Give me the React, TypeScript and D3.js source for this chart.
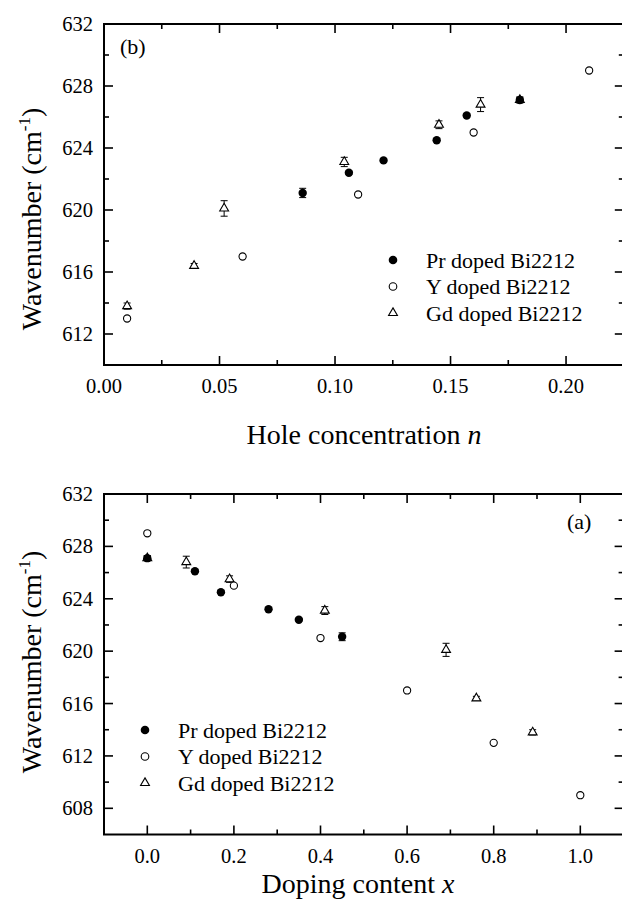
import React from 'react';
import * as d3 from 'd3';

const W = 622;
const H = 900;
const FONT = "'Liberation Serif', 'Times New Roman', Times, 'DejaVu Serif', serif";

// ---- Panel (b): wavenumber vs hole concentration n ----
const prN = [0.086, 0.106, 0.121, 0.144, 0.157, 0.18];
const prNW = [621.1, 622.4, 623.2, 624.5, 626.1, 627.1];
const prNErr = [0.3, 0.1, 0.1, 0.1, 0.1, 0.15];
const yN = [0.01, 0.06, 0.11, 0.16, 0.21];
const yNW = [613.0, 617.0, 621.0, 625.0, 629.0];
const gdN = [0.01, 0.039, 0.052, 0.104, 0.145, 0.163, 0.18];
const gdNW = [613.8, 616.4, 620.1, 623.1, 625.5, 626.8, 627.1];
const gdNErr = [0.2, 0.15, 0.5, 0.3, 0.25, 0.45, 0.2];

// ---- Panel (a): wavenumber vs doping content x ----
const prX = [0, 0.11, 0.17, 0.28, 0.35, 0.45];
const prXW = [627.1, 626.1, 624.5, 623.2, 622.4, 621.1];
const prXErr = [0.15, 0.1, 0.1, 0.1, 0.1, 0.3];
const yX = [0, 0.2, 0.4, 0.6, 0.8, 1.0];
const yXW = [629, 625, 621, 617, 613, 609];
const gdX = [0, 0.09, 0.19, 0.41, 0.69, 0.76, 0.89];
const gdXW = [627.1, 626.8, 625.5, 623.1, 620.1, 616.4, 613.8];
const gdXErr = [0.2, 0.45, 0.25, 0.3, 0.5, 0.15, 0.2];

// ---- ticks & labels ----
const nMajor = [0, 0.05, 0.1, 0.15, 0.2];
const nMinor = [0.025, 0.075, 0.125, 0.175];
const xMajor = [0, 0.2, 0.4, 0.6, 0.8, 1.0];
const xMinor = [0.1, 0.3, 0.5, 0.7, 0.9];
const wMajorB = [612, 616, 620, 624, 628, 632];
const wMinorB = [614, 618, 622, 626, 630];
const wMajorA = [608, 612, 616, 620, 624, 628, 632];
const wMinorA = [610, 614, 618, 622, 626, 630];
const legendLabels = ['Pr doped Bi2212', 'Y doped Bi2212', 'Gd doped Bi2212'];

type PanelProps = {
  x: d3.ScaleLinear<number, number>;
  y: d3.ScaleLinear<number, number>;
  xMaj: number[]; xMin: number[]; yMaj: number[]; yMin: number[];
  xFmt: (v: number) => string;
  pr: number[]; prW: number[]; prE: number[];
  yy: number[]; yyW: number[];
  gd: number[]; gdW: number[]; gdE: number[];
  tag: string; tagX: number; tagY: number;
  legX: number; legY: number;
  xTitle: React.ReactNode; xTitleX: number; xTitleY: number;
  yTitleY: number;
};

const tri = d3.symbol().type(d3.symbolTriangle).size(34)();

function ErrBar({ cx, y, v, e }: { cx: number; y: d3.ScaleLinear<number, number>; v: number; e: number }) {
  const y1 = y(v - e), y2 = y(v + e);
  return (
    <g stroke="#000" strokeWidth={1}>
      <line x1={cx} x2={cx} y1={y1} y2={y2} />
      <line x1={cx - 3.5} x2={cx + 3.5} y1={y1} y2={y1} />
      <line x1={cx - 3.5} x2={cx + 3.5} y1={y2} y2={y2} />
    </g>
  );
}

function Panel(p: PanelProps) {
  const [x0, x1] = p.x.range();
  const [y0, y1] = p.y.range(); // y0 bottom, y1 top
  const maj = 9, mn = 5;
  return (
    <g style={{ fontFamily: FONT }} fill="#000">
      <g stroke="#000" strokeWidth={1.6}>
        {p.xMaj.map((v, i) => (
          <g key={'xm' + i}>
            <line x1={p.x(v)} x2={p.x(v)} y1={y0} y2={y0 - maj} />
            <line x1={p.x(v)} x2={p.x(v)} y1={y1} y2={y1 + maj} />
          </g>
        ))}
        {p.xMin.map((v, i) => (
          <g key={'xn' + i}>
            <line x1={p.x(v)} x2={p.x(v)} y1={y0} y2={y0 - mn} />
            <line x1={p.x(v)} x2={p.x(v)} y1={y1} y2={y1 + mn} />
          </g>
        ))}
        {p.yMaj.map((v, i) => (
          <g key={'ym' + i}>
            <line x1={x0} x2={x0 + maj} y1={p.y(v)} y2={p.y(v)} />
            <line x1={x1} x2={x1 - maj} y1={p.y(v)} y2={p.y(v)} />
          </g>
        ))}
        {p.yMin.map((v, i) => (
          <g key={'yn' + i}>
            <line x1={x0} x2={x0 + mn} y1={p.y(v)} y2={p.y(v)} />
            <line x1={x1} x2={x1 - mn} y1={p.y(v)} y2={p.y(v)} />
          </g>
        ))}
      </g>
      <rect x={x0} y={y1} width={x1 - x0} height={y0 - y1} fill="none" stroke="#000" strokeWidth={2} />
      {p.xMaj.map((v, i) => (
        <text key={'xl' + i} x={p.x(v)} y={y0 + 28} fontSize={20.5} textAnchor="middle">{p.xFmt(v)}</text>
      ))}
      {p.yMaj.map((v, i) => (
        <text key={'yl' + i} x={x0 - 11} y={p.y(v) + 7} fontSize={20.5} textAnchor="end">{v}</text>
      ))}
      <text x={p.xTitleX} y={p.xTitleY} fontSize={28} textAnchor="middle">{p.xTitle}</text>
      <text transform={`translate(41,${p.yTitleY}) rotate(-90)`} fontSize={28} textAnchor="middle">
        Wavenumber (cm<tspan fontSize={17} dy={-11}>-1</tspan><tspan dy={11}>)</tspan>
      </text>
      <text x={p.tagX} y={p.tagY} fontSize={22}>{p.tag}</text>
      {p.gd.map((v, i) => (
        <g key={'gd' + i}>
          <ErrBar cx={p.x(v)} y={p.y} v={p.gdW[i]} e={p.gdE[i]} />
          <path d={tri} transform={`translate(${p.x(v)},${p.y(p.gdW[i])})`} fill="#fff" stroke="#000" strokeWidth={1.1} />
        </g>
      ))}
      {p.yy.map((v, i) => (
        <circle key={'y' + i} cx={p.x(v)} cy={p.y(p.yyW[i])} r={3.6} fill="#fff" stroke="#000" strokeWidth={1.1} />
      ))}
      {p.pr.map((v, i) => (
        <g key={'pr' + i}>
          <ErrBar cx={p.x(v)} y={p.y} v={p.prW[i]} e={p.prE[i]} />
          <circle cx={p.x(v)} cy={p.y(p.prW[i])} r={4.2} fill="#000" />
        </g>
      ))}
      <g>
        <circle cx={p.legX} cy={p.legY} r={4.3} fill="#000" />
        <circle cx={p.legX} cy={p.legY + 26.5} r={3.8} fill="#fff" stroke="#000" strokeWidth={1.1} />
        <path d={tri} transform={`translate(${p.legX},${p.legY + 53})`} fill="#fff" stroke="#000" strokeWidth={1.1} />
        {legendLabels.map((t, i) => (
          <text key={'lg' + i} x={p.legX + 33} y={p.legY + 26.5 * i + 7.5} fontSize={22}>{t}</text>
        ))}
      </g>
    </g>
  );
}

export default function App() {
  const xB = d3.scaleLinear().domain([0, 0.225]).range([104, 623.8]);
  const yB = d3.scaleLinear().domain([610, 632]).range([365, 24]);
  const xA = d3.scaleLinear().domain([-0.1, 1.1]).range([104, 623.6]);
  const yA = d3.scaleLinear().domain([606, 632]).range([834.5, 494]);
  return (
    <svg width={W} height={H} style={{ position: 'absolute', left: 0, top: 0, background: '#fff', fontFamily: FONT }}>
      <rect width={W} height={H} fill="#fff" />
      <Panel
        x={xB} y={yB} xMaj={nMajor} xMin={nMinor} yMaj={wMajorB} yMin={wMinorB}
        xFmt={d3.format('.2f')}
        pr={prN} prW={prNW} prE={prNErr} yy={yN} yyW={yNW} gd={gdN} gdW={gdNW} gdE={gdNErr}
        tag="(b)" tagX={120} tagY={54}
        legX={393} legY={260}
        xTitle={<>Hole concentration <tspan fontStyle="italic">n</tspan></>}
        xTitleX={364} xTitleY={444} yTitleY={219}
      />
      <Panel
        x={xA} y={yA} xMaj={xMajor} xMin={xMinor} yMaj={wMajorA} yMin={wMinorA}
        xFmt={d3.format('.1f')}
        pr={prX} prW={prXW} prE={prXErr} yy={yX} yyW={yXW} gd={gdX} gdW={gdXW} gdE={gdXErr}
        tag="(a)" tagX={567} tagY={529}
        legX={145} legY={730}
        xTitle={<>Doping content <tspan fontStyle="italic">x</tspan></>}
        xTitleX={358} xTitleY={893} yTitleY={662}
      />
    </svg>
  );
}
